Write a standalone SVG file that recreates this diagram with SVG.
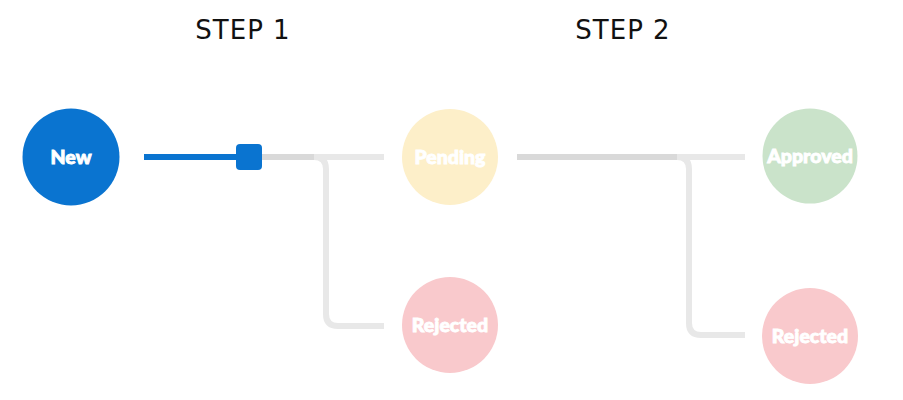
<svg xmlns="http://www.w3.org/2000/svg" width="903" height="400" viewBox="0 0 903 400">
<style>
.title{font-family:"DejaVu Sans",sans-serif;font-size:26px;fill:#111;text-anchor:middle;letter-spacing:1px}
.lbl{font-family:"Lato","Open Sans",sans-serif;font-weight:900;font-size:19.5px;fill:#fff;stroke:#fff;stroke-width:0.9;text-anchor:middle}
.ln{fill:none;stroke:#e8e8e8;stroke-width:6}
.sh{fill:none;stroke:#d9d9d9;stroke-width:6}
</style>
<rect width="903" height="400" fill="#fff"/>
<text class="title" x="243" y="39">STEP 1</text>
<text class="title" x="623" y="39">STEP 2</text>
<g id="connectors">
  <path class="ln" d="M262 157 H384"/>
  <path class="ln" d="M262 157 H314 Q326 157 326 169 V314 Q326 326 338 326 H384"/>
  <path class="sh" d="M262 157 H314"/>
  <path class="ln" d="M517 157 H745"/>
  <path class="ln" d="M517 157 H677 Q689 157 689 169 V323 Q689 335 701 335 H745"/>
  <path class="sh" d="M517 157 H677"/>
  <path fill="none" stroke="#0a74d0" stroke-width="6" d="M144 157 H240"/>
  <rect x="236" y="144" width="26" height="26" rx="4" fill="#0a74d0"/>
</g>
<g id="new"><circle cx="71" cy="157" r="48.5" fill="#0a74d0"/><text class="lbl" x="71" y="164">New</text></g>
<g id="pending"><circle cx="450" cy="157" r="48" fill="#fdefc9"/><text class="lbl" x="450" y="164">Pending</text></g>
<g id="approved"><circle cx="810" cy="156" r="47.5" fill="#cae3ca"/><text class="lbl" x="810" y="163">Approved</text></g>
<g id="rejected1"><circle cx="450" cy="325" r="48" fill="#f9c9cc"/><text class="lbl" x="450" y="332">Rejected</text></g>
<g id="rejected2"><circle cx="810" cy="336" r="48" fill="#f9c9cc"/><text class="lbl" x="810" y="343">Rejected</text></g>
</svg>
